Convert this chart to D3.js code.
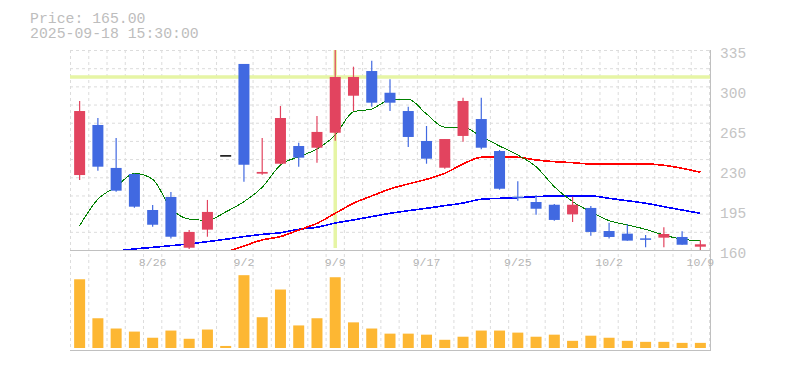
<!DOCTYPE html>
<html>
<head>
<meta charset="utf-8">
<script src="https://cdn.jsdelivr.net/npm/d3@7"></script>
<style>
  body { margin: 0; background: #fff; }
  svg { display: block; }
</style>
</head>
<body>
<div id="chart"></div>
<script>
// daily bars, 2025-08-20 .. 2025-10-09
var dates = ["8/20","8/21","8/22","8/25","8/26","8/27","8/28","8/29","9/1","9/2",
             "9/3","9/4","9/5","9/8","9/9","9/10","9/11","9/12","9/16","9/17",
             "9/18","9/19","9/22","9/24","9/25","9/26","9/29","9/30","10/1","10/2",
             "10/3","10/6","10/7","10/8","10/9"];
var opens  = [225.6,269.4,231.8,226.5,195.0,206.4,162.0,177.8,243.0,322.8,
              226.8,235.5,251.0,249.5,262.6,295.0,316.6,297.6,281.6,255.4,
              232.0,259.8,274.6,246.6,206.7,202.0,199.6,191.2,196.8,176.6,
              174.3,170.2,170.8,171.4,162.9];
var highs  = [290.4,275.5,258.0,227.0,199.4,210.8,177.5,203.8,243.0,322.8,
              258.0,286.0,253.9,277.3,335.0,320.4,325.6,309.4,285.4,268.5,
              257.1,293.3,293.3,247.5,220.1,208.1,200.3,206.6,198.5,183.9,
              182.5,173.1,179.9,176.4,168.5];
var lows   = [221.3,229.4,211.0,197.0,180.4,170.0,160.9,171.6,243.0,219.8,
              225.9,235.0,232.9,236.4,255.6,281.6,285.4,281.6,250.1,235.5,
              231.1,254.8,248.1,212.8,203.1,190.9,185.6,184.5,172.5,170.0,
              168.2,162.4,162.4,164.6,159.4];
var closes = [281.6,232.9,211.9,197.9,182.1,171.6,175.8,193.3,243.0,234.6,
              228.3,275.5,240.8,263.3,311.4,311.4,288.9,288.9,258.9,239.9,
              257.1,290.4,249.5,213.6,205.3,196.1,186.3,199.6,175.8,171.4,
              168.2,169.0,174.0,164.6,165.0];
var volumes = [67,29,19,16,10,17,9,18,2,71,
               30,57,22,29,69,25,19,14,14,13,
               8,11,17,17,15,11,13,7,12,10,
               7,6,6,5,5];
// moving averages (null = not drawn)
var maShort = [181.3,204.4,215.4,227.1,221.9,196.5,187.1,186.0,193.3,202.3,
               214.9,234.4,241.6,248.4,260.6,281.0,283.4,291.3,291.9,279.0,
               267.4,267.4,259.2,251.0,243.1,232.9,215.4,202.3,193.5,185.7,
               181.9,178.1,173.1,169.4,168.2];
var maMid   = [null,null,null,null,null,null,null,null,158.0,163.5,
               168.8,171.7,177.5,183.3,192.1,200.9,207.3,213.4,217.8,221.9,
               227.1,235.3,241.1,241.6,241.1,238.8,237.3,236.4,235.3,235.3,
               235.3,235.3,234.1,231.5,228.0];
var maLong  = [null,null,158.9,160.9,162.3,163.8,165.3,167.3,169.4,171.7,
               173.7,175.1,178.1,179.9,183.6,186.3,189.2,192.1,194.4,196.5,
               198.8,201.1,204.4,205.2,205.8,206.7,207.3,207.3,207.3,205.2,
               203.1,200.9,197.9,195.0,192.1];
var priceTicks = [160, 195, 230, 265, 300, 335];
var dateTicks = ["8/26", "9/2", "9/9", "9/17", "9/25", "10/2", "10/9"];
var cursorDate = "9/9", cursorPrice = 311.4;
var infoLines = ["Price: 165.00", "2025-09-18 15:30:00"];

var W = 785, H = 370,
    left = 70, right = 709,
    pTop = 50, pBot = 250,
    vTop = 268, vBot = 348, vLine = 350;

var UP = "#e2445f", DOWN = "#4169e1", FLAT = "#000",
    GRID = "#dcdcdc", AXIS = "#c0c0c0";

var svg = d3.select("#chart").append("svg")
  .attr("width", W).attr("height", H);

var x = d3.scaleBand().domain(dates).range([left, right]).padding(0);
var bw = 11;
var cx = function(d) { return x(d) + x.bandwidth() / 2 + 0.5; };

var y = d3.scaleLinear().domain([160, 335]).range([pBot, pTop]);
var yv = d3.scaleLinear().domain([0, 78]).range([vBot, vTop]);

svg.append("defs").append("clipPath").attr("id", "pclip")
  .append("rect").attr("x", left).attr("y", pTop)
  .attr("width", right - left + 1).attr("height", pBot - pTop);

// grid
var grid = svg.append("g").attr("stroke", GRID).attr("stroke-dasharray", "3,3").attr("fill", "none");
grid.selectAll(".hg").data(d3.range(12)).enter().append("line")
  .attr("x1", left).attr("x2", right)
  .attr("y1", function(i) { return pTop + i * (pBot - pTop) / 11 + 0.5; })
  .attr("y2", function(i) { return pTop + i * (pBot - pTop) / 11 + 0.5; });
grid.selectAll(".vg").data(dates.concat(["end"])).enter().append("line")
  .attr("x1", function(d, i) { return (i < dates.length ? x(d) : right) + 0.5; })
  .attr("x2", function(d, i) { return (i < dates.length ? x(d) : right) + 0.5; })
  .attr("y1", pTop).attr("y2", vLine);

// axis frame
svg.append("line").attr("x1", left).attr("x2", right + 2).attr("y1", pBot + 0.5).attr("y2", pBot + 0.5)
  .attr("stroke", AXIS);
svg.append("line").attr("x1", left).attr("x2", right + 2).attr("y1", vLine + 0.5).attr("y2", vLine + 0.5)
  .attr("stroke", AXIS);
svg.append("line").attr("x1", right + 1.5).attr("x2", right + 1.5).attr("y1", pTop).attr("y2", vLine + 1)
  .attr("stroke", AXIS);

// cursor
var cur = svg.append("g").attr("stroke", "#e6f5a5").attr("stroke-width", 3.5);
cur.append("line").attr("x1", left).attr("x2", right + 1)
  .attr("y1", y(cursorPrice)).attr("y2", y(cursorPrice));
cur.append("line").attr("x1", cx(cursorDate)).attr("x2", cx(cursorDate))
  .attr("y1", pTop).attr("y2", pBot - 2);

// moving averages
var plot = svg.append("g").attr("clip-path", "url(#pclip)");
function maLine(vals, color, width) {
  var line = d3.line()
    .defined(function(d) { return d != null; })
    .curve(d3.curveMonotoneX)
    .x(function(d, i) { return cx(dates[i]); })
    .y(function(d) { return y(d); });
  plot.append("path").datum(vals)
    .attr("d", line).attr("fill", "none")
    .attr("stroke", color).attr("stroke-width", width)
    .attr("shape-rendering", "crispEdges");
}
maLine(maLong, "#0000ff", 1.6);
maLine(maMid, "#ff0000", 1.6);
maLine(maShort, "#008000", 1);

// candles
var bars = dates.map(function(d, i) {
  return { d: d, o: opens[i], h: highs[i], l: lows[i], c: closes[i] };
});
var col = function(b) { return b.c > b.o ? UP : (b.c < b.o ? DOWN : FLAT); };

var candle = plot.selectAll(".candle").data(bars).enter().append("g");
candle.append("line")
  .attr("x1", function(b) { return cx(b.d); }).attr("x2", function(b) { return cx(b.d); })
  .attr("y1", function(b) { return y(b.h); }).attr("y2", function(b) { return y(b.l); })
  .attr("stroke", col).attr("stroke-width", 1.2);
candle.append("rect")
  .attr("x", function(b) { return cx(b.d) - bw / 2; })
  .attr("width", bw)
  .attr("y", function(b) { return y(Math.max(b.o, b.c)); })
  .attr("height", function(b) { return Math.max(1.5, Math.abs(y(b.o) - y(b.c))); })
  .attr("fill", col);

// volume
svg.selectAll(".vol").data(volumes).enter().append("rect")
  .attr("x", function(v, i) { return cx(dates[i]) - bw / 2; })
  .attr("width", bw)
  .attr("y", function(v) { return yv(v); })
  .attr("height", function(v) { return vBot - yv(v); })
  .attr("fill", "#fdb733");

// price labels
svg.selectAll(".pt").data(priceTicks).enter().append("text")
  .attr("x", 720).attr("y", function(v) { return y(v) + 8; })
  .attr("font-family", "Liberation Mono, monospace").attr("font-size", 14.5)
  .attr("fill", "#c4c4c4")
  .text(function(v) { return v; });

// date labels
svg.selectAll(".dt").data(dateTicks).enter().append("text")
  .attr("x", function(d) { return cx(d); }).attr("y", 266)
  .attr("text-anchor", "middle")
  .attr("font-family", "Liberation Mono, monospace").attr("font-size", 11.5)
  .attr("fill", "#b4b4b4")
  .text(function(d) { return d; });

// info text
svg.selectAll(".info").data(infoLines).enter().append("text")
  .attr("x", 30).attr("y", function(t, i) { return 23 + i * 15; })
  .attr("font-family", "Liberation Mono, monospace").attr("font-size", 14.8)
  .attr("fill", "#bdbdbd")
  .text(function(t) { return t; });
</script>
</body>
</html>
